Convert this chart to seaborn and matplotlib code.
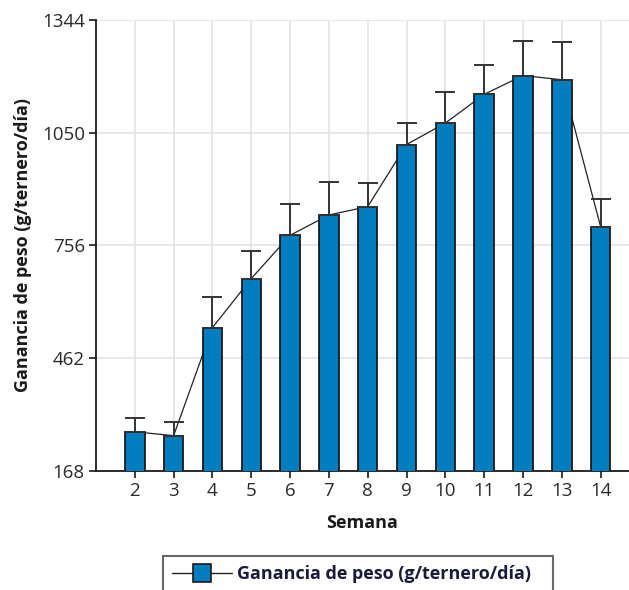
import matplotlib
matplotlib.use("Agg")
import matplotlib.pyplot as plt
from matplotlib.lines import Line2D
import numpy as np
import pandas as pd
import seaborn as sns

# Data
semanas = [2, 3, 4, 5, 6, 7, 8, 9, 10, 11, 12, 13, 14]
ganancia = [269, 259, 541, 669, 782, 835, 857, 1019, 1075, 1150, 1199, 1188, 804]
error_sup = [35, 36, 79, 72, 82, 86, 61, 56, 80, 76, 91, 99, 72]
y_ticks = [168, 462, 756, 1050, 1344]

BAR_COLOR = "#007DBE"
EDGE = "#1a1a1a"
FONT = ["Open Sans", "DejaVu Sans"]

sns.set_style("white")
plt.rcParams["font.family"] = FONT

df = pd.DataFrame({"semana": semanas, "ganancia": ganancia, "err": error_sup})

fig = plt.figure(figsize=(6.29, 5.90), dpi=100)
ax = fig.add_axes([96 / 629, 1 - 470.5 / 590, 1 - 96 / 629, (470.5 - 20) / 590])

# connecting line (behind the bars)
sns.lineplot(data=df, x="semana", y="ganancia", ax=ax, color="#222222",
             linewidth=0.9, zorder=2, legend=False)

sns.barplot(data=df, x="semana", y="ganancia", ax=ax, native_scale=True,
            width=0.5, color=BAR_COLOR, edgecolor=EDGE, linewidth=1.3,
            saturation=1, errorbar=None, zorder=3)

ax.errorbar(df["semana"], df["ganancia"],
            yerr=[np.zeros(len(df)), df["err"]], fmt="none",
            ecolor="#333333", elinewidth=1.4, capsize=7.2, capthick=1.4, zorder=4)

ax.set_xlim(1, 14.73)
ax.set_ylim(168, 1344)
ax.set_xticks(semanas)
ax.set_xticklabels([str(s) for s in semanas])
ax.set_yticks(y_ticks)
ax.set_yticklabels([str(t) for t in y_ticks])

ax.grid(True, color="#e3e3e3", linewidth=1.2, zorder=0)
ax.set_axisbelow(True)
for side in ["top", "right"]:
    ax.spines[side].set_visible(False)
for side in ["left", "bottom"]:
    ax.spines[side].set_color("#1a1a1a")
    ax.spines[side].set_linewidth(1.3)

ax.tick_params(axis="both", which="major", length=5, width=1.2, color="#1a1a1a",
               labelsize=13.5, labelcolor="#2a2a2a", pad=3, direction="out")
ax.tick_params(axis="both", bottom=True, left=True)

ax.set_xlabel("Semana", fontsize=13, fontweight="bold", color="#1a1a1a", labelpad=10)
ax.set_ylabel("Ganancia de peso (g/ternero/día)", fontsize=13, fontweight="bold",
              color="#1a1a1a", labelpad=7)

handle = Line2D([0], [0], color="#222222", linewidth=1.0, marker="s", markersize=13,
                markerfacecolor=BAR_COLOR, markeredgecolor=EDGE, markeredgewidth=1.2)
leg = fig.legend([handle], ["Ganancia de peso (g/ternero/día)"],
                 loc="upper left",
                 bbox_to_anchor=(163 / 629, 1 - 556 / 590 - 0.2, 390 / 629, 0.2),
                 mode="expand", borderaxespad=0, frameon=True, fancybox=False,
                 handlelength=3.3, handletextpad=0.3, borderpad=0.5,
                 prop={"family": FONT, "weight": "bold", "size": 13})
leg.get_frame().set_edgecolor("#444444")
leg.get_frame().set_linewidth(1.5)
for t in leg.get_texts():
    t.set_color("#1a1a3a")

fig.savefig("out.png", dpi=100)
